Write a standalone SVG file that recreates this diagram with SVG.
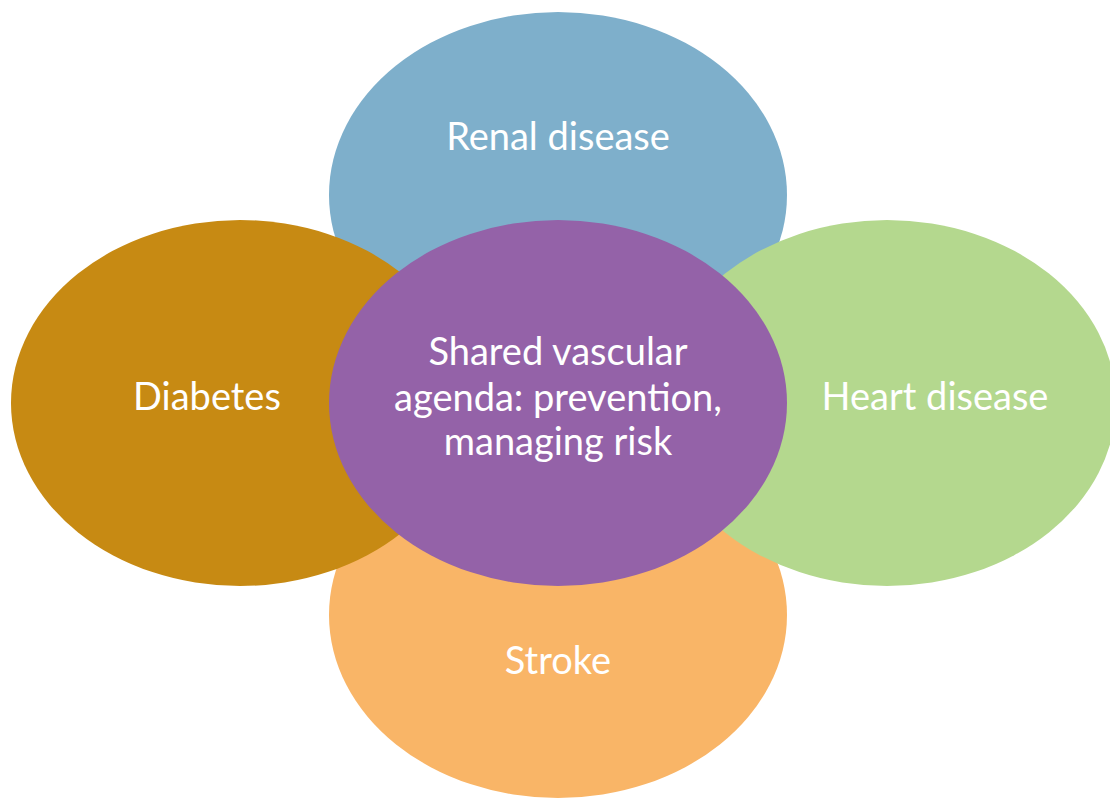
<svg xmlns="http://www.w3.org/2000/svg" width="1110" height="798" viewBox="0 0 1110 798">
<style>
.lbl{font-family:Lato,"Open Sans","Liberation Sans",sans-serif;font-size:38px;fill:#ffffff;text-anchor:middle}
</style>
<rect width="1110" height="798" fill="#ffffff"/>
<g id="renal"><ellipse cx="558" cy="195" rx="229" ry="183" fill="#7EAFCB"/><text class="lbl" x="558" y="150">Renal disease</text></g>
<g id="stroke"><ellipse cx="558" cy="615" rx="229" ry="183" fill="#F9B567"/><text class="lbl" x="558" y="674">Stroke</text></g>
<g id="diabetes"><ellipse cx="240" cy="403" rx="229" ry="183" fill="#C78A13"/><text class="lbl" x="207" y="410">Diabetes</text></g>
<g id="heart"><ellipse cx="887" cy="403" rx="229" ry="183" fill="#B4D88E"/><text class="lbl" x="935" y="410">Heart disease</text></g>
<g id="center"><ellipse cx="558" cy="403" rx="229" ry="183" fill="#9462A8"/>
<text class="lbl" x="558" y="365">Shared vascular</text>
<text class="lbl" x="558" y="411">agenda: prevention,</text>
<text class="lbl" x="558" y="455">managing risk</text></g>
<g id="connectors"/>
</svg>
